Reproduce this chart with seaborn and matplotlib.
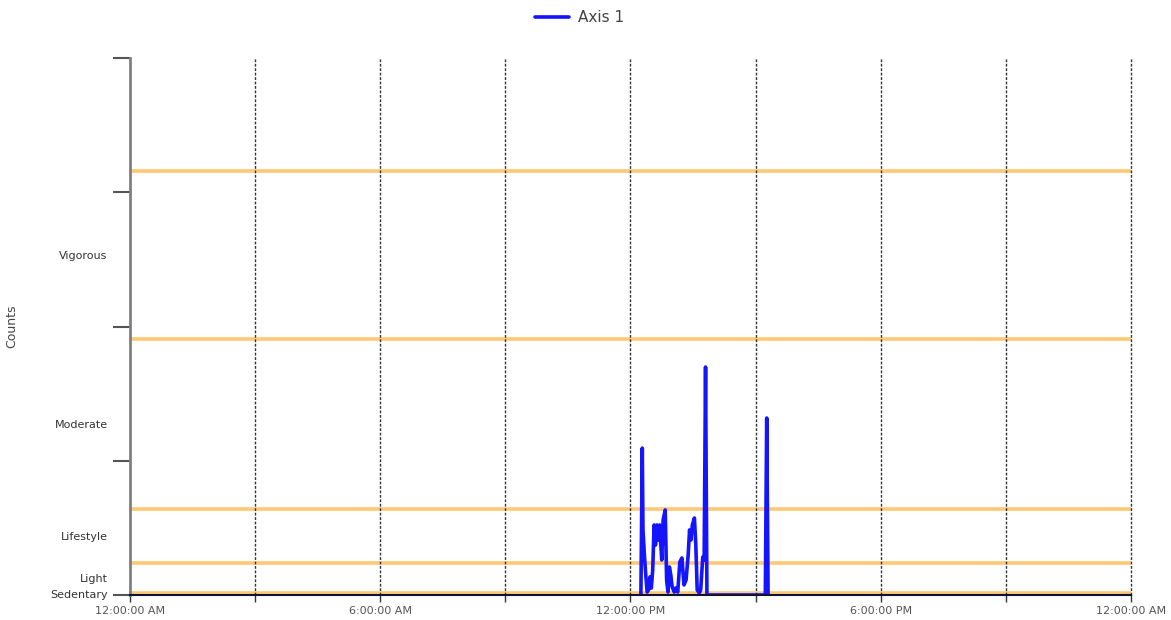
import pandas as pd
import matplotlib
matplotlib.use("Agg")
import matplotlib.pyplot as plt
import seaborn as sns

# epoch times (clock) and activity counts
times = ["12:15", "12:17", "12:18", "12:20", "12:22", "12:24", "12:26", "12:28",
         "12:30", "12:32", "12:34", "12:36", "12:38", "12:40", "12:42", "12:45",
         "12:47", "12:50", "12:52", "12:54", "12:56", "12:58", "13:00", "13:03",
         "13:05", "13:08", "13:11", "13:14", "13:17", "13:20", "13:23", "13:25",
         "13:27", "13:29", "13:32", "13:34", "13:36", "13:39", "13:41", "13:44",
         "13:46", "13:48", "13:50", "15:14", "15:16", "15:18"]
counts = [0, 1095, 485, 300, 150, 22, 37, 135,
          52, 187, 522, 373, 522, 410, 522, 261,
          560, 634, 112, 22, 209, 150, 60, 22,
          52, 22, 246, 276, 75, 112, 298, 485,
          410, 522, 574, 373, 37, 15, 37, 283,
          261, 1699, 0, 0, 1319, 0]

# intensity cut points (upper bounds) and band labels
cut_points = [17, 241, 639, 1908, 3162]
band_names = ["Sedentary", "Light", "Lifestyle", "Moderate", "Vigorous"]
band_lower = [0, 17, 241, 639, 1908]

df = pd.DataFrame({"time": times, "counts": counts})
t = pd.to_datetime(df["time"], format="%H:%M")
df["hour"] = t.dt.hour + t.dt.minute / 60

sns.set_style("white")
plt.rcParams["font.family"] = ["DejaVu Sans"]

fig = plt.figure(figsize=(11.71, 6.2), dpi=100)
ax = fig.add_axes([0.111, 0.0403, 0.8548, 0.8657])

for c in cut_points:
    ax.axhline(c, color="#FFC875", lw=2.6, zorder=1)
for h in range(3, 25, 3):
    ax.axvline(h, color="#333333", lw=1, ls=(0, (2, 1.2)), zorder=1, clip_on=False)

sns.lineplot(data=df, x="hour", y="counts", ax=ax, color="#1414FF", lw=2.6,
             label="Axis 1", zorder=2)

ax.set_xlim(0, 24)
ax.set_ylim(0, 4000)

ax.set_xticks([0, 6, 12, 18, 24])
ax.set_xticklabels(["12:00:00 AM", "6:00:00 AM", "12:00:00 PM", "6:00:00 PM", "12:00:00 AM"],
                   fontsize=8, color="#555555")
ax.set_xticks([3, 9, 15, 21], minor=True)
ax.tick_params(axis="x", which="both", direction="out", length=5, width=1,
               color="#333333", bottom=True, pad=3)

mids = [(lo + hi) / 2 for lo, hi in zip(band_lower, cut_points)]
ax.set_yticks(mids)
ax.set_yticklabels(band_names, fontsize=8, color="#333333")
ax.set_yticks([0, 1000, 2000, 3000, 4000], minor=True)
ax.tick_params(axis="y", which="major", length=0, pad=16)
ax.tick_params(axis="y", which="minor", direction="out", length=12, width=1.5,
               color="#555555", left=True)

ax.set_xlabel("")
ax.set_ylabel("Counts", fontsize=9, color="#444444")
ax.yaxis.set_label_coords(-0.112, 0.5)

for s in ["top", "right"]:
    ax.spines[s].set_visible(False)
ax.spines["left"].set_color("#808080")
ax.spines["left"].set_linewidth(2)
ax.spines["bottom"].set_color("#111133")
ax.spines["bottom"].set_linewidth(1.5)

ax.legend(loc="center", bbox_to_anchor=(0.495, 0.972), bbox_transform=fig.transFigure,
          frameon=False, fontsize=11, handlelength=2.2, handletextpad=0.6,
          labelcolor="#444444")

fig.savefig("out.png", dpi=100)
